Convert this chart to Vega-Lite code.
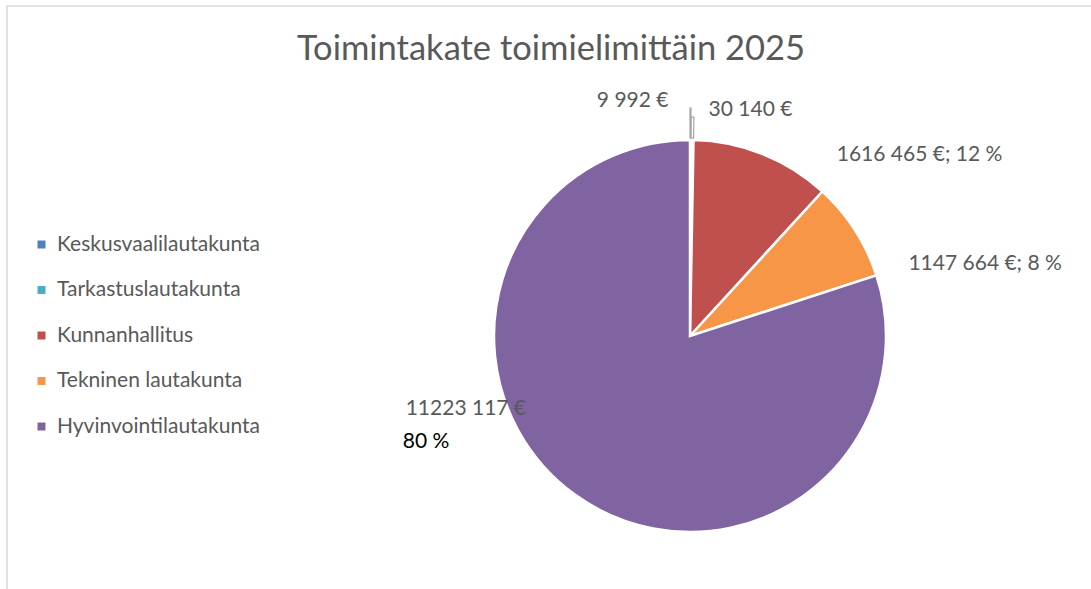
{
  "$schema": "https://vega.github.io/schema/vega-lite/v6.json",
  "autosize": {"type": "none"},
  "padding": {"left": 7, "top": 6, "right": -282, "bottom": -77},
  "width": 1366,
  "height": 660,
  "background": "white",
  "view": {"stroke": "#d9d9d9", "strokeWidth": 1.5, "fill": "white"},
  "title": {
    "text": "Toimintakate toimielimittäin 2025",
    "font": "Lato",
    "fontSize": 34.5,
    "fontWeight": "normal",
    "color": "#595959",
    "anchor": "middle",
    "dx": -139,
    "offset": -88,
    "baseline": "alphabetic"
  },
  "data": {
    "values": [
      {"toimielin": "Keskusvaalilautakunta", "euro": 9992, "jarjestys": 1, "teksti": "9 992 €"},
      {"toimielin": "Tarkastuslautakunta", "euro": 30140, "jarjestys": 2, "teksti": "30 140 €"},
      {"toimielin": "Kunnanhallitus", "euro": 1616465, "jarjestys": 3, "teksti": "1616 465 €; 12 %"},
      {"toimielin": "Tekninen lautakunta", "euro": 1147664, "jarjestys": 4, "teksti": "1147 664 €; 8 %"},
      {"toimielin": "Hyvinvointilautakunta", "euro": 11223117, "jarjestys": 5, "teksti": "11223 117 €", "osuus": "80 %"}
    ]
  },
  "encoding": {
    "theta": {"field": "euro", "type": "quantitative", "stack": true},
    "order": {"field": "jarjestys", "type": "quantitative"}
  },
  "layer": [
    {
      "mark": {"type": "arc", "outerRadius": 196, "stroke": "white", "strokeWidth": 2.5},
      "encoding": {
        "color": {
          "field": "toimielin",
          "type": "nominal",
          "scale": {
            "domain": ["Keskusvaalilautakunta", "Tarkastuslautakunta", "Kunnanhallitus", "Tekninen lautakunta", "Hyvinvointilautakunta"],
            "range": ["#4F81BD", "#4BACC6", "#C0504D", "#F79646", "#8064A2"]
          },
          "legend": {
            "title": null,
            "orient": "none",
            "legendX": 24,
            "legendY": 228,
            "symbolType": "square",
            "symbolSize": 64,
            "symbolStrokeWidth": 0,
            "labelFont": "Lato",
            "labelFontSize": 21,
            "labelColor": "#595959",
            "labelOffset": 5,
            "rowPadding": 23.5,
            "labelLimit": 400
          }
        }
      }
    },
    {
      "mark": {"type": "arc", "radius": 198, "radius2": 228, "fill": null, "stroke": "#a6a6a6", "strokeWidth": 1.2},
      "encoding": {"strokeOpacity": {"condition": {"test": "datum.toimielin === 'Keskusvaalilautakunta'", "value": 1}, "value": 0}}
    },
    {
      "mark": {"type": "arc", "radius": 198, "radius2": 219, "fill": null, "stroke": "#a6a6a6", "strokeWidth": 1.2},
      "encoding": {"strokeOpacity": {"condition": {"test": "datum.toimielin === 'Tarkastuslautakunta'", "value": 1}, "value": 0}}
    },
    {
      "mark": {"type": "text", "radius": 235, "dx": -22, "align": "right", "baseline": "middle", "font": "Lato", "fontSize": 21, "color": "#595959"},
      "encoding": {"text": {"condition": {"test": "datum.toimielin === 'Keskusvaalilautakunta'", "field": "teksti"}, "value": ""}}
    },
    {
      "mark": {"type": "text", "radius": 226, "dx": 16, "align": "left", "baseline": "middle", "font": "Lato", "fontSize": 21, "color": "#595959"},
      "encoding": {"text": {"condition": {"test": "datum.toimielin === 'Tarkastuslautakunta'", "field": "teksti"}, "value": ""}}
    },
    {
      "mark": {"type": "text", "radius": 196, "dx": 74, "dy": 1, "align": "left", "baseline": "middle", "font": "Lato", "fontSize": 21, "color": "#595959"},
      "encoding": {"text": {"condition": {"test": "datum.toimielin === 'Kunnanhallitus'", "field": "teksti"}, "value": ""}}
    },
    {
      "mark": {"type": "text", "radius": 230, "dx": 25, "dy": 52, "align": "left", "baseline": "middle", "font": "Lato", "fontSize": 21, "color": "#595959"},
      "encoding": {"text": {"condition": {"test": "datum.toimielin === 'Tekninen lautakunta'", "field": "teksti"}, "value": ""}}
    },
    {
      "mark": {"type": "text", "radius": 150, "dx": -136, "dy": -48, "align": "center", "baseline": "middle", "font": "Lato", "fontSize": 21, "color": "#595959"},
      "encoding": {"text": {"condition": {"test": "datum.toimielin === 'Hyvinvointilautakunta'", "field": "teksti"}, "value": ""}}
    },
    {
      "mark": {"type": "text", "radius": 150, "dx": -199, "dy": -15, "align": "left", "baseline": "middle", "font": "Lato", "fontSize": 21, "color": "#000000"},
      "encoding": {"text": {"condition": {"test": "datum.toimielin === 'Hyvinvointilautakunta'", "field": "osuus"}, "value": ""}}
    }
  ]
}
